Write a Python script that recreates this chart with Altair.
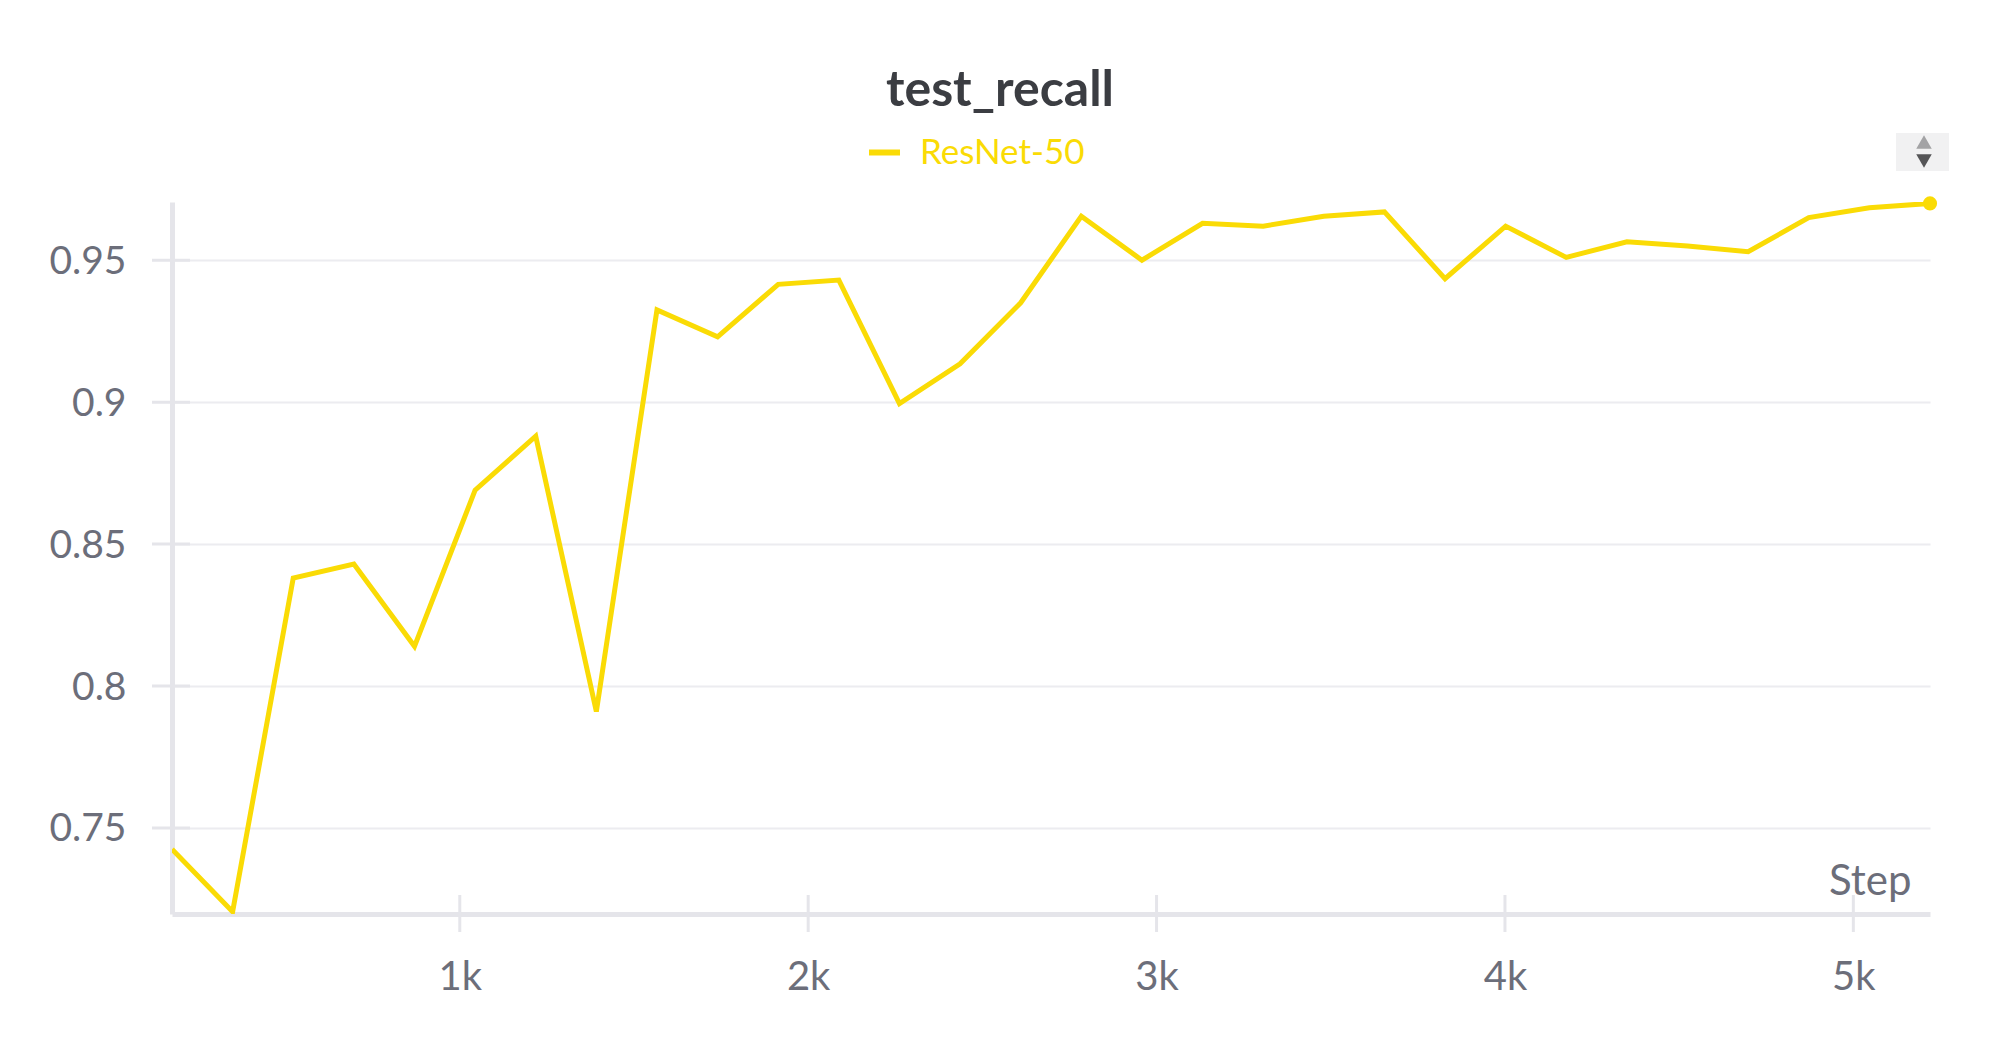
import altair as alt
import pandas as pd

run_name = "ResNet-50"
line_color = "#fadb05"
steps = [174 * i for i in range(1, 31)]
recall = [0.7425, 0.7205, 0.838, 0.843, 0.814, 0.869, 0.888, 0.791, 0.9325, 0.923,
          0.9415, 0.943, 0.8995, 0.9135, 0.935, 0.9655, 0.950, 0.963, 0.962, 0.9655,
          0.967, 0.9435, 0.962, 0.951, 0.9565, 0.955, 0.953, 0.965, 0.9685, 0.970]
x_ticks = [1000, 2000, 3000, 4000, 5000]
y_ticks = [0.75, 0.8, 0.85, 0.9, 0.95]

W, H = 1758, 712
FONT = "Lato"
TICK = "#6c6e7a"
AXIS = "#e5e5ea"

df = pd.DataFrame({"step": steps, "recall": recall, "run": [run_name] * len(steps)})
x_scale = alt.Scale(domain=[174, 5220], nice=False, zero=False)
y_scale = alt.Scale(domain=[0.7197, 0.9705], nice=False, zero=False)
x_axis = alt.Axis(
    values=x_ticks, labelExpr="datum.value / 1000 + 'k'", grid=False, ticks=False,
    labelFontSize=40, labelColor=TICK, labelFont=FONT, labelPadding=43, labelFontWeight=400,
    domainColor=AXIS, domainWidth=5, title="Step", titleFont=FONT, titleFontSize=42,
    titleFontWeight=400, titleColor=TICK, titleAlign="right", titleBaseline="alphabetic",
    titleAnchor="start", titleX=1739, titleY=-20)
y_axis = alt.Axis(
    values=y_ticks, format=".2~f", grid=True, gridColor="#ececf0", gridWidth=2, ticks=False,
    labelFontSize=39, labelColor=TICK, labelFont=FONT, labelPadding=46, labelFontWeight=400,
    labelOffset=1, domainColor=AXIS, domainWidth=5, title=None)

line = alt.Chart(df).mark_line(strokeWidth=5, strokeJoin="miter", clip=True).encode(
    x=alt.X("step:Q", scale=x_scale, axis=x_axis),
    y=alt.Y("recall:Q", scale=y_scale, axis=y_axis),
    color=alt.Color("run:N", scale=alt.Scale(domain=[run_name], range=[line_color]), legend=alt.Legend(
        orient="none", legendX=694, legendY=-68, title=None, symbolType="stroke", symbolStrokeWidth=6,
        symbolSize=961, labelFont=FONT, labelFontSize=35, labelColor=line_color, labelOffset=17,
        labelLimit=400, padding=0)),
)

end_dot = alt.Chart(df.tail(1)).mark_circle(size=200, opacity=1, color=line_color, clip=False).encode(
    x=alt.X("step:Q", scale=x_scale, axis=x_axis),
    y=alt.Y("recall:Q", scale=y_scale, axis=y_axis),
)

x_tick_marks = alt.Chart(pd.DataFrame({"t": x_ticks})).mark_rule(color=AXIS, strokeWidth=3).encode(
    x=alt.X("t:Q", scale=x_scale, axis=x_axis),
    y=alt.value(H - 19), y2=alt.value(H + 18),
)
y_tick_marks = alt.Chart(pd.DataFrame({"t": y_ticks})).mark_rule(color=AXIS, strokeWidth=3).encode(
    y=alt.Y("t:Q", scale=y_scale, axis=y_axis),
    x=alt.value(-20), x2=alt.value(18),
)

sort_box = alt.Chart(pd.DataFrame({"k": [0]})).mark_rect(color="#f1f1f2").encode(
    x=alt.value(1724), x2=alt.value(1777), y=alt.value(-69), y2=alt.value(-31),
)
sort_up = alt.Chart(pd.DataFrame({"k": [0]})).mark_point(
    shape="triangle-up", filled=True, opacity=1, color="#a3a3a5", size=240).encode(
    x=alt.value(1752), y=alt.value(-60),
)
sort_down = alt.Chart(pd.DataFrame({"k": [0]})).mark_point(
    shape="triangle-down", filled=True, opacity=1, color="#555557", size=240).encode(
    x=alt.value(1752), y=alt.value(-41),
)

chart = alt.layer(x_tick_marks, y_tick_marks, line, end_dot, sort_box, sort_up, sort_down).properties(
    width=W, height=H,
    autosize=alt.AutoSizeParams(type="none"),
    padding={"left": 164, "top": 194, "right": 50, "bottom": 110},
    title=alt.TitleParams("test_recall", font=FONT, fontSize=50, fontWeight=700, color="#3b3d42",
                          anchor="middle", dx=-51, offset=-23, baseline="alphabetic"),
).configure_view(stroke=None)

chart.save("out.html", embed_options={"renderer": "svg", "actions": False})
